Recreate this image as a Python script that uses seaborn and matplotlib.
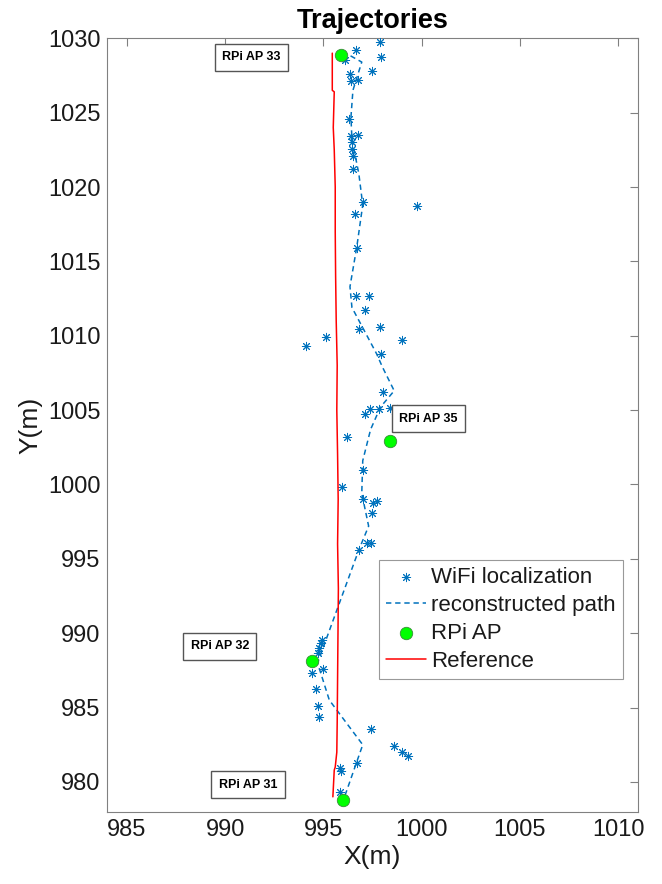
import matplotlib
matplotlib.use("Agg")
import matplotlib.pyplot as plt
import numpy as np
import pandas as pd
import seaborn as sns

# ---------------- data ----------------
wifi_x = [997.88, 996.66, 996.10, 997.91, 997.49, 996.35, 996.40, 996.77, 996.32, 996.39,
          996.77, 996.44, 996.44, 996.49, 996.52, 997.03, 999.75, 996.61, 996.69, 996.66,
          997.33, 997.13, 996.79, 997.86, 995.13, 994.10, 999.00, 997.93, 998.05, 997.11,
          997.37, 997.83, 998.39, 998.73, 998.69, 996.21, 997.03, 995.96, 997.01, 997.54,
          997.74, 997.47, 997.23, 997.40, 996.81, 994.91, 994.86, 994.79, 994.70, 994.99,
          994.43, 994.62, 994.74, 994.79, 997.42, 998.59, 999.00, 999.30, 996.69, 995.86,
          995.89, 995.86]
wifi_y = [1029.77, 1029.21, 1028.54, 1028.72, 1027.82, 1027.60, 1027.15, 1027.20, 1024.55, 1023.43,
          1023.48, 1023.03, 1022.54, 1022.08, 1021.19, 1019.01, 1018.74, 1018.18, 1015.92, 1012.67,
          1012.67, 1011.73, 1010.47, 1010.59, 1009.89, 1009.29, 1009.71, 1008.77, 1006.21, 1004.71,
          1005.09, 1005.09, 1005.14, 1005.09, 1004.71, 1003.17, 1000.97, 999.85, 999.04, 998.73,
          998.90, 998.06, 996.08, 996.08, 995.59, 989.54, 989.31, 988.98, 988.70, 987.59,
          987.30, 986.26, 985.12, 984.38, 983.53, 982.41, 982.02, 981.73, 981.28, 980.95,
          980.73, 979.33]

path_x = [996.1, 997.0, 995.3, 994.7, 996.8, 997.3, 996.95, 997.0, 997.4, 997.9, 998.6, 998.0,
          997.7, 996.45, 996.35, 996.7, 997.0, 996.8, 996.45, 996.4, 996.5, 996.95, 996.2]
path_y = [979.1, 982.5, 985.5, 988.0, 995.6, 997.2, 999.4, 1001.6, 1003.7, 1005.2, 1006.3, 1007.9,
          1008.8, 1011.9, 1013.3, 1016.0, 1018.8, 1020.9, 1023.2, 1024.7, 1026.5, 1028.4, 1028.95]

ap_x = [995.9, 998.4, 994.4, 996.0]
ap_y = [1028.9, 1002.9, 988.1, 978.8]
ap_names = ["RPi AP 33", "RPi AP 35", "RPi AP 32", "RPi AP 31"]
ap_label_x = [989.85, 998.86, 988.24, 989.67]
ap_label_y = [1028.74, 1004.42, 989.11, 979.82]

ref_x = [995.45, 995.45, 995.55, 995.5, 995.55, 995.6, 995.6, 995.62, 995.65, 995.7, 995.68,
         995.72, 995.75, 995.72, 995.76, 995.74, 995.72, 995.7, 995.68, 995.6, 995.55, 995.48]
ref_y = [1029.0, 1026.5, 1026.4, 1024.0, 1022.5, 1020.0, 1017.0, 1014.0, 1011.0, 1008.0, 1005.0,
         1002.0, 999.0, 996.0, 993.0, 990.0, 987.0, 984.0, 982.0, 981.0, 980.8, 979.0]

x_ticks = [985, 990, 995, 1000, 1005, 1010]
y_ticks = [980, 985, 990, 995, 1000, 1005, 1010, 1015, 1020, 1025, 1030]

# ---------------- style ----------------
sns.set_theme(style="white")
plt.rcParams["font.family"] = ["Liberation Sans", "DejaVu Sans"]

blue = "#0072BD"
axcol = "#808080"

fig = plt.figure(figsize=(6.62, 8.84), dpi=100)
ax = fig.add_axes([0.162, 0.0818, 0.8016, 0.8749])

wifi_df = pd.DataFrame({"x": wifi_x, "y": wifi_y})
path_df = pd.DataFrame({"x": path_x, "y": path_y})
ap_df = pd.DataFrame({"x": ap_x, "y": ap_y})
ref_df = pd.DataFrame({"x": ref_x, "y": ref_y})

sns.scatterplot(data=wifi_df, x="x", y="y", ax=ax, marker=(8, 2, 0), s=36,
                color=blue, edgecolor=blue, linewidth=0.7, label="WiFi localization", zorder=3)
sns.lineplot(data=path_df, x="x", y="y", ax=ax, sort=False, estimator=None,
             color=blue, linewidth=1.1, label="reconstructed path", zorder=3)
ax.lines[-1].set_dashes([3.5, 2.5])
sns.scatterplot(data=ap_df, x="x", y="y", ax=ax, marker="o", s=80,
                color="#00FF00", edgecolor="#3a8a3a", linewidth=0.6, label="RPi AP", zorder=4)
sns.lineplot(data=ref_df, x="x", y="y", ax=ax, sort=False, estimator=None,
             color="#FF0000", linewidth=1.1, label="Reference", zorder=5)

for name, tx, ty in zip(ap_names, ap_label_x, ap_label_y):
    ax.text(tx, ty, name, fontsize=9, fontweight="bold", ha="left", va="center",
            color="black", zorder=6,
            bbox=dict(boxstyle="square,pad=0.6", fc="white", ec="#555555", lw=1.0))

ax.set_xlim(984, 1011)
ax.set_ylim(978, 1030)
ax.set_xticks(x_ticks)
ax.set_yticks(y_ticks)
ax.tick_params(direction="in", top=True, right=True, length=6, width=0.8,
               color=axcol, labelcolor="#1a1a1a", labelsize=17, pad=5)
for sp in ax.spines.values():
    sp.set_color(axcol)
    sp.set_linewidth(0.8)

ax.set_xlabel("X(m)", fontsize=19, color="#1a1a1a", labelpad=3)
ax.set_ylabel("Y(m)", fontsize=19, color="#1a1a1a", labelpad=4)
ax.set_title("Trajectories", fontsize=19.5, fontweight="bold", color="black", pad=7.5)

handles, labels = ax.get_legend_handles_labels()
leg = ax.legend(handles, labels, loc="upper left", bbox_to_anchor=(0.5126, 0.3254),
                borderaxespad=0, fontsize=16, frameon=True, fancybox=False,
                edgecolor=axcol, handlelength=1.8, handletextpad=0.25,
                labelspacing=0.32, borderpad=0.3)
leg.get_frame().set_linewidth(0.8)
for t in leg.get_texts():
    t.set_color("#1a1a1a")

fig.savefig("out.png", dpi=100, facecolor="white")
